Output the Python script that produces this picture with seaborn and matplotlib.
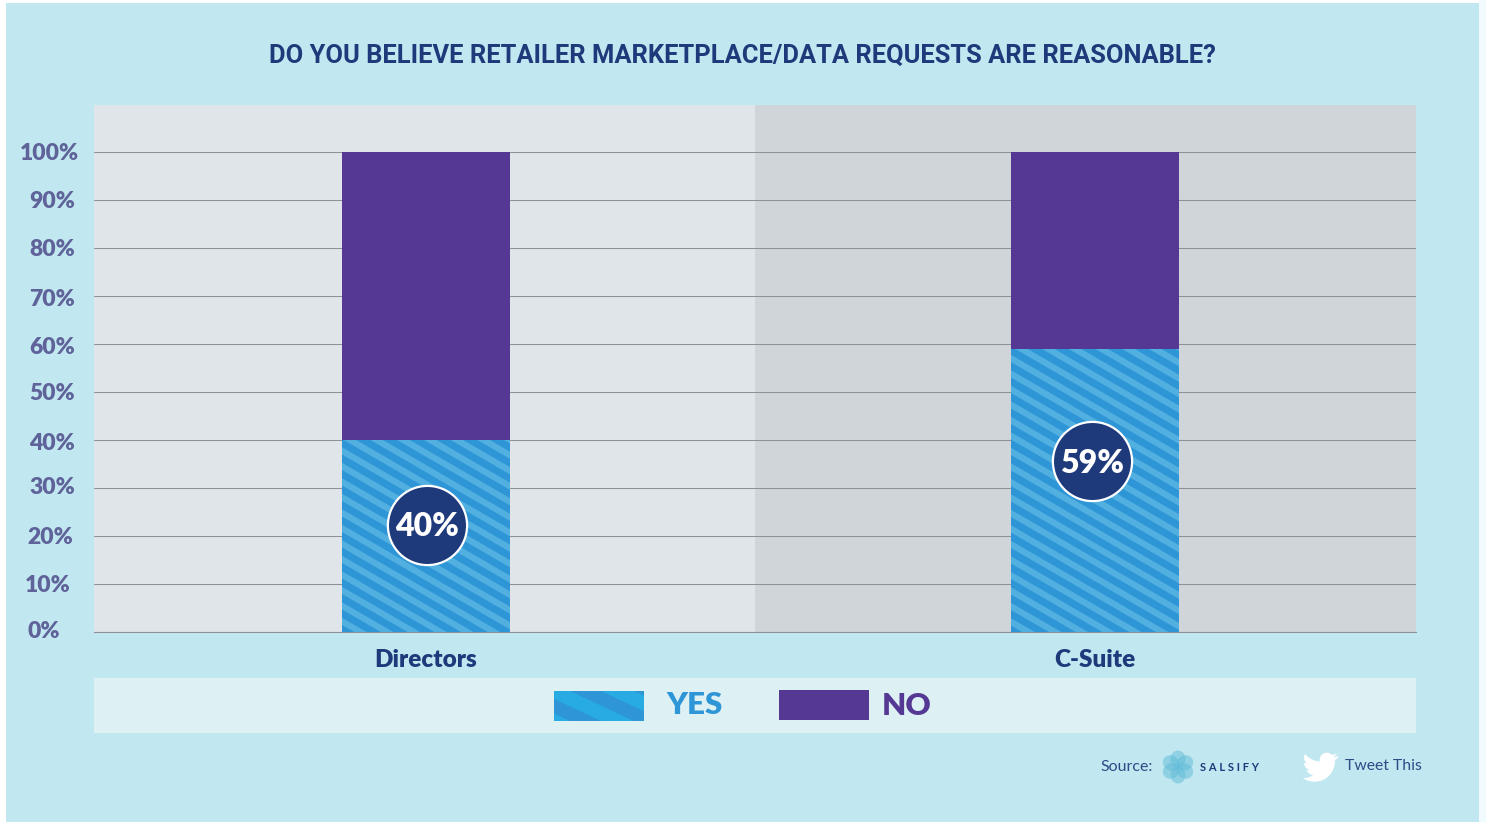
import numpy as np
import pandas as pd
import matplotlib
matplotlib.use("Agg")
import matplotlib.pyplot as plt
import seaborn as sns
from matplotlib.collections import LineCollection
from matplotlib.patches import Rectangle, PathPatch, Ellipse
from matplotlib.path import Path
from matplotlib.transforms import ScaledTranslation

# Survey results, in percent
levels = ["Directors", "C-Suite"]
yes_share = [40, 59]
no_share = [60, 41]
tick_values = [0, 10, 20, 30, 40, 50, 60, 70, 80, 90, 100]
tick_labels = ["0%", "10%", "20%", "30%", "40%", "50%", "60%", "70%", "80%", "90%", "100%"]
value_labels = ["40%", "59%"]
title_text = "DO YOU BELIEVE RETAILER MARKETPLACE/DATA REQUESTS ARE REASONABLE?"

NAVY = "#1E3A7B"
BLUE = "#2E96D6"
STRIPE = "#52B0E0"
PURPLE = "#553894"
TICK = "#5F6399"
PANEL = "#C1E8F0"
W, H = 1486, 822

sns.set_theme(style="white")
plt.rcParams["font.family"] = ["Lato", "DejaVu Sans"]

df = pd.DataFrame({"level": levels, "yes": yes_share, "no": no_share})
df["total"] = df["yes"] + df["no"]

fig = plt.figure(figsize=(W / 100, H / 100), dpi=100, facecolor="white")

# Backdrop axes in pixel units for the panel, legend band and footer
bg = fig.add_axes([0, 0, 1, 1], zorder=0)
bg.set_xlim(0, W)
bg.set_ylim(H, 0)
bg.axis("off")
bg.add_patch(Rectangle((1479, 0), 7, H, color="#F1FBFE", lw=0))
bg.add_patch(Rectangle((6, 3), 1473, H - 3, color=PANEL, lw=0))
bg.add_patch(Rectangle((94, 105), 661, 527, color="#E0E5E9", lw=0))
bg.add_patch(Rectangle((755, 105), 661, 527, color="#D0D5D9", lw=0))
bg.add_patch(Rectangle((94, 678), 1322, 55, color="#DDF1F5", lw=0))

ax = fig.add_axes([94 / W, (H - 632) / H, 1322 / W, 527 / H], zorder=1)
ax.patch.set_alpha(0)

bar_w = 168 / 669
sns.barplot(data=df, x="level", y="total", color=PURPLE, saturation=1, width=bar_w,
            linewidth=0, ax=ax, zorder=2)
sns.barplot(data=df, x="level", y="yes", color=BLUE, saturation=1, width=bar_w,
            linewidth=0, ax=ax, zorder=3)

ax.set_xlim(-(426 - 94) / 669, (1416 - 426) / 669)
ax.set_ylim(0, 527 / 4.8)
ax.set_xlabel("")
ax.set_ylabel("")
for side in ["top", "left", "right"]:
    ax.spines[side].set_visible(False)
ax.spines["bottom"].set_color("#8E9296")
ax.spines["bottom"].set_linewidth(0.8)
ax.set_axisbelow(True)
ax.yaxis.grid(True, color="#8E9296", linewidth=0.75)
ax.xaxis.grid(False)

ax.set_yticks(tick_values, tick_labels)
ax.tick_params(axis="y", length=0, pad=30.2, labelsize=16.5, labelcolor=TICK)
ax.tick_params(axis="x", length=0, pad=12.5, labelsize=17.5, labelcolor=NAVY)
for lab in ax.get_xticklabels():
    lab.set_fontweight("heavy")

# Nudge individual percent labels, offsets in pixels
label_dx = [-8.5, -4.5, -1.5, 0, 0, 0, 0, 0, 0, 0.5, -2.5]
label_dy = [3, 0, 1, 2, -1, 1, -1, -1, 1, 0, 0]
for lab, dx, dy in zip(ax.get_yticklabels(), label_dx, label_dy):
    lab.set_fontweight("heavy")
    lab.set_ha("center")
    lab.set_transform(lab.get_transform()
                      + ScaledTranslation(dx / 100, dy / 100, fig.dpi_scale_trans))


def stripes(x0, x1, y0, y1, period, slope, phase=0.0):
    """Diagonal segments in pixel coordinates covering the given box."""
    run = x1 - x0
    starts = np.arange(y0 - slope * run + phase, y1 + period, period)
    return [[(x0, s), (x1, s + slope * run)] for s in starts]


# Diagonal stripes over the YES bars, clipped to each bar
yes_bars = ax.containers[-1]
for bar in yes_bars:
    lc = LineCollection(stripes(300, 1200, 340, 640, 15.5, 0.58, 4),
                        colors=STRIPE, linewidths=4.5,
                        transform=bg.transData, zorder=4)
    ax.add_collection(lc, autolim=False)
    lc.set_clip_path(bar)

# Value badges
badge_x = [0.0015, 0.9955]
badge_y = [22.3, 35.6]
ax.scatter(badge_x, badge_y, s=3250, color=NAVY, edgecolor="white", linewidth=1.6,
           zorder=5, clip_on=False)
for bx, by, text in zip(badge_x, badge_y, value_labels):
    ax.text(bx, by - 0.4, text, color="white", fontsize=23, fontweight="heavy",
            ha="center", va="center", zorder=6)

# Title
fig.text(742 / W, 1 - 56 / H, title_text, color=NAVY, fontsize=18.4, fontweight="bold",
         family=["Roboto", "DejaVu Sans"], ha="center", va="center")

# Legend
yes_swatch = Rectangle((554, 691), 90, 30, color=BLUE, lw=0, zorder=2)
bg.add_patch(yes_swatch)
swatch_lines = LineCollection(stripes(540, 660, 680, 730, 30, 0.47, 1),
                              colors="#27ABE2", linewidths=10, zorder=3)
bg.add_collection(swatch_lines, autolim=False)
swatch_lines.set_clip_path(yes_swatch)
bg.add_patch(Rectangle((779, 690), 90, 30, color=PURPLE, lw=0, zorder=2))
bg.text(695, 705, "YES", color=BLUE, fontsize=22.5, fontweight="heavy", ha="center", va="center")
bg.text(907, 706, "NO", color=PURPLE, fontsize=22.5, fontweight="heavy", ha="center", va="center")

# Footer: source credit with logo mark
bg.text(1100, 767, "Source:", color=NAVY, fontsize=11.5, ha="left", va="center", alpha=0.9)
for angle in np.arange(0, 180, 60):
    rad = np.deg2rad(angle)
    for sign in (1, -1):
        bg.add_patch(Ellipse((1178 + sign * 8 * np.sin(rad), 767 - sign * 8 * np.cos(rad)),
                             15, 17, angle=angle, color="#5FBBD8", alpha=0.5, lw=0))
bg.text(1200, 767.5, "S\u2009\u2009A\u2009\u2009L\u2009\u2009S\u2009\u2009I\u2009\u2009F\u2009\u2009Y",
        color=NAVY, fontsize=8, fontweight="bold", ha="left", va="center")
bg.text(1345, 766, "Tweet This", color=NAVY, fontsize=11.3, ha="left", va="center", alpha=0.9)

# Bird glyph, built from relative cubic segments
bird = [(22.46, 6), (-.77, .35, -1.6, .58, -2.46, .69), (.88, -.53, 1.56, -1.37, 1.88, -2.38),
        (-.83, .5, -1.75, .85, -2.72, 1.05), (-.79, -.86, -1.9, -1.36, -3.16, -1.36),
        (-2.35, 0, -4.27, 1.92, -4.27, 4.29), (0, .34, .04, .67, .11, .98),
        (-3.56, -.18, -6.73, -1.89, -8.84, -4.48), (-.37, .63, -.58, 1.37, -.58, 2.15),
        (0, 1.49, .75, 2.81, 1.91, 3.56), (-.71, 0, -1.37, -.2, -1.95, -.5),
        (0, 2.11, 1.48, 3.85, 3.44, 4.24), (-.62, .17, -1.28, .19, -1.93, .07),
        (.55, 1.72, 2.13, 2.95, 4, 2.98), (-1.48, 1.16, -3.34, 1.84, -5.33, 1.84),
        (-.34, 0, -.68, -.02, -1.02, -.06), (2.42, 1.56, 4.68, 2.27, 7.1, 2.27),
        (7.88, 0, 12.21, -6.54, 12.21, -12.21), (0, -.19, 0, -.37, -.01, -.56),
        (.84, -.6, 1.56, -1.36, 2.14, -2.23)]
cx, cy = bird[0]
verts, codes = [(cx, cy)], [Path.MOVETO]
for a, b, c, d, e, f in bird[1:]:
    verts += [(cx + a, cy + b), (cx + c, cy + d), (cx + e, cy + f)]
    codes += [Path.CURVE4] * 3
    cx, cy = cx + e, cy + f
verts.append(verts[0])
codes.append(Path.CLOSEPOLY)
scale = 36 / 21.5
pts = np.array(verts) * scale + np.array([1300, 746])
bg.add_patch(PathPatch(Path(pts, codes), facecolor="white", lw=0))

fig.savefig("out.png", dpi=100, facecolor="white")
